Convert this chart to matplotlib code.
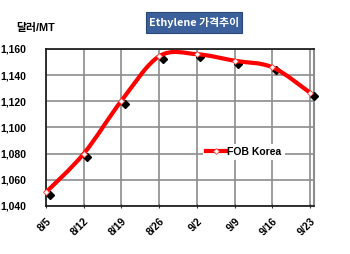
import matplotlib
matplotlib.use("Agg")
import matplotlib.pyplot as plt
from matplotlib.path import Path
from matplotlib.patches import PathPatch, Rectangle
from matplotlib.lines import Line2D
import matplotlib.transforms as mtransforms
import numpy as np

plt.rcParams['font.family'] = ['Liberation Sans', 'Noto Sans CJK KR', 'DejaVu Sans']

# Data ---------------------------------------------------
dates = ["8/5", "8/12", "8/19", "8/26", "9/2", "9/9", "9/16", "9/23"]
fob_korea = [1050.5, 1080, 1120.5, 1154.5, 1156, 1151, 1146, 1126.5]
y_ticks = [1040, 1060, 1080, 1100, 1120, 1140, 1160]
title = "Ethylene 가격추이"
unit_label = "달러/MT"
series_label = "FOB Korea"


def smooth_path(xs, ys):
    """Excel-style smoothed line as cubic bezier segments (Catmull-Rom control points)."""
    pts = np.column_stack([xs, ys])
    n = len(pts)
    verts = [pts[0]]
    codes = [Path.MOVETO]
    for i in range(n - 1):
        p_prev = pts[i - 1] if i > 0 else pts[i]
        p_next2 = pts[i + 2] if i + 2 < n else pts[i + 1]
        c1 = pts[i] + (pts[i + 1] - p_prev) / 6
        c2 = pts[i + 1] - (p_next2 - pts[i]) / 6
        verts += [c1, c2, pts[i + 1]]
        codes += [Path.CURVE4] * 3
    return Path(verts, codes)


fig = plt.figure(figsize=(3.5, 2.54), dpi=100)
ax = fig.add_axes([46 / 350, 1 - 206 / 254, 268 / 350, 157 / 254])

x = np.arange(len(dates))

# marker shadow (black diamonds offset down-right)
shadow = mtransforms.offset_copy(ax.transData, fig=fig, x=3.5, y=-3.0, units="dots")
ax.plot(x, fob_korea, linestyle="none", marker="D", markersize=4.2,
        color="black", transform=shadow, zorder=3, clip_on=False)

# smoothed red line
ax.add_patch(PathPatch(smooth_path(x, fob_korea), fill=False, edgecolor="#ff0000",
                       lw=3, zorder=4, capstyle="round", joinstyle="round", clip_on=False))
ax.plot(x, fob_korea, linestyle="none", marker="D", markersize=3,
        markerfacecolor="white", markeredgecolor="#ff4040", markeredgewidth=0.6,
        zorder=5, clip_on=False)

ax.set_xlim(0, 7.1)
ax.set_ylim(1040, 1160)
ax.set_xticks(x)
ax.set_xticklabels(dates, rotation=45, ha="right", va="top", rotation_mode="anchor",
                   fontsize=7.5, fontweight="bold")
ax.set_yticks(y_ticks)
ax.set_yticklabels([f"{v:,}" for v in y_ticks], fontsize=7.5, fontweight="bold")
ax.tick_params(axis="x", length=3, direction="inout", pad=6, color="#333333")
ax.tick_params(axis="y", length=0, pad=14)
ax.grid(True, color="#8c8c8c", lw=1.2)
ax.set_axisbelow(True)
for side in ["left", "bottom", "top"]:
    ax.spines[side].set_color("#222222")
    ax.spines[side].set_linewidth(1.3)
ax.spines["right"].set_color("#8c8c8c")
ax.spines["right"].set_linewidth(1.5)

# legend
handle = Line2D([], [], color="#ff0000", lw=3, marker="D", markersize=3,
                markerfacecolor="white", markeredgecolor="#ff4040", markeredgewidth=0.6)
leg = ax.legend([handle], [series_label], loc="center left",
                bbox_to_anchor=(203 / 350, 1 - 152 / 254), bbox_transform=fig.transFigure,
                frameon=True, fancybox=False, borderpad=0.3, borderaxespad=0,
                handlelength=1.9, handletextpad=0.15,
                prop={"weight": "bold", "size": 7.5})
leg.get_frame().set_edgecolor("none")
leg.get_frame().set_facecolor("white")
leg.get_frame().set_alpha(1)

# unit label
fig.text(16 / 350, 1 - 28 / 254, unit_label, ha="left", va="center",
         fontsize=7.8, fontweight="bold")

# title box
fig.patches.append(Rectangle((146 / 350, 1 - 33 / 254), 96 / 350, 21 / 254,
                             transform=fig.transFigure, facecolor="#3b609b",
                             edgecolor="#2a4778", lw=0.8))
fig.text(194 / 350, 1 - 22.5 / 254, title, ha="center", va="center", color="white",
         fontsize=7.8, fontweight="bold", family=["Noto Sans CJK KR", "DejaVu Sans"])

fig.savefig("out.png", dpi=100)
